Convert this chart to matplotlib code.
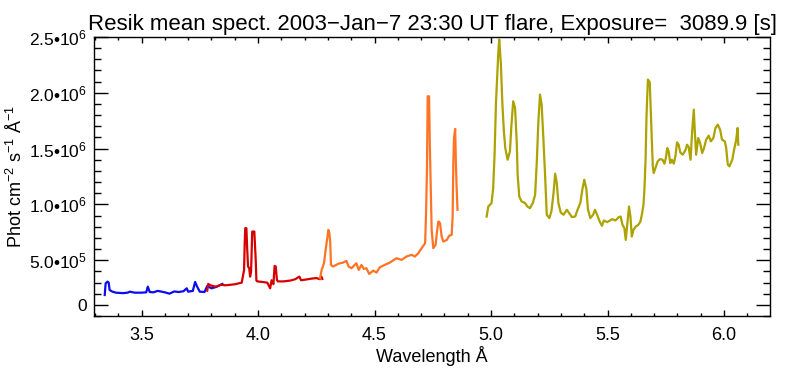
import numpy as np
import matplotlib
matplotlib.use("Agg")
import matplotlib.pyplot as plt
from matplotlib.ticker import MultipleLocator, FixedLocator

plt.rcParams['font.family'] = ['Liberation Sans', 'DejaVu Sans']
plt.rcParams['mathtext.fontset'] = 'custom'
plt.rcParams['mathtext.rm'] = 'Liberation Sans'
plt.rcParams['mathtext.default'] = 'rm'

# Channel 1 (blue)
wave_ch1 = [3.342, 3.346, 3.354, 3.359, 3.363, 3.375, 3.39, 3.42, 3.44, 3.45, 3.47, 3.50,
            3.52, 3.527, 3.535, 3.55, 3.57, 3.60, 3.62, 3.64, 3.66, 3.68, 3.694, 3.70,
            3.72, 3.730, 3.738, 3.75, 3.77, 3.782, 3.80, 3.82, 3.847]
flux_ch1 = [188e3, 293e3, 308e3, 300e3, 233e3, 218e3, 209e3, 205e3, 209e3, 218e3, 209e3, 209e3,
            212e3, 263e3, 215e3, 212e3, 225e3, 212e3, 200e3, 220e3, 215e3, 222e3, 248e3, 218e3,
            225e3, 305e3, 265e3, 218e3, 215e3, 269e3, 248e3, 260e3, 287e3]

# Channel 2 (red)
wave_ch2 = [3.782, 3.786, 3.80, 3.82, 3.84, 3.86, 3.90, 3.93, 3.940, 3.943, 3.945, 3.950,
            3.953, 3.957, 3.962, 3.966, 3.970, 3.975, 3.984, 3.990, 3.993, 3.997, 4.02,
            4.04, 4.052, 4.058, 4.066, 4.071, 4.076, 4.081, 4.085, 4.11, 4.14, 4.16, 4.177,
            4.185, 4.20, 4.23, 4.25, 4.265, 4.272, 4.276]
flux_ch2 = [227e3, 287e3, 272e3, 262e3, 280e3, 275e3, 284e3, 299e3, 413e3, 667e3, 787e3, 787e3,
            622e3, 443e3, 430e3, 353e3, 395e3, 757e3, 757e3, 503e3, 317e3, 310e3, 305e3,
            298e3, 248e3, 320e3, 285e3, 449e3, 443e3, 323e3, 310e3, 310e3, 318e3, 330e3, 353e3,
            320e3, 325e3, 335e3, 340e3, 330e3, 353e3, 332e3]

# Channel 3 (orange)
wave_ch3 = [4.266, 4.273, 4.283, 4.290, 4.297, 4.302, 4.306, 4.310, 4.313, 4.322, 4.343, 4.365,
            4.379, 4.389, 4.401, 4.422, 4.432, 4.444, 4.454, 4.465, 4.477, 4.494, 4.508, 4.523,
            4.544, 4.566, 4.594, 4.616, 4.637, 4.659, 4.673, 4.688, 4.702, 4.717, 4.721, 4.725,
            4.728, 4.734, 4.737, 4.741, 4.745, 4.752, 4.762, 4.768, 4.774, 4.781, 4.788, 4.795,
            4.810, 4.821, 4.831, 4.835, 4.838, 4.841, 4.846, 4.849, 4.852, 4.856]
flux_ch3 = [338e3, 413e3, 473e3, 592e3, 697e3, 772e3, 745e3, 652e3, 458e3, 443e3, 467e3, 479e3,
            494e3, 443e3, 428e3, 473e3, 413e3, 458e3, 422e3, 428e3, 377e3, 407e3, 389e3, 437e3,
            458e3, 479e3, 518e3, 503e3, 533e3, 548e3, 533e3, 563e3, 608e3, 652e3, 922e3, 1.326e6,
            1.969e6, 1.969e6, 1.550e6, 1.161e6, 772e3, 608e3, 638e3, 757e3, 847e3, 832e3, 712e3, 667e3,
            682e3, 721e3, 727e3, 892e3, 1.371e6, 1.595e6, 1.676e6, 1.371e6, 1.161e6, 952e3]

# Channel 4 (olive)
wave_ch4 = [4.981, 4.988, 5.002, 5.009, 5.015, 5.021, 5.031, 5.035, 5.042, 5.048, 5.055, 5.061,
            5.071, 5.081, 5.087, 5.095, 5.103, 5.110, 5.114, 5.121, 5.131, 5.146, 5.156, 5.167,
            5.179, 5.189, 5.196, 5.203, 5.210, 5.217, 5.224, 5.232, 5.239, 5.250, 5.259, 5.268,
            5.275, 5.282, 5.289, 5.299, 5.311, 5.325, 5.337, 5.347, 5.361, 5.371, 5.383, 5.392,
            5.400, 5.409, 5.416, 5.426, 5.438, 5.446, 5.455, 5.466, 5.476, 5.484, 5.498, 5.520,
            5.534, 5.548, 5.556, 5.564, 5.572, 5.578, 5.585, 5.592, 5.598, 5.604, 5.611, 5.621,
            5.632, 5.641, 5.647, 5.654, 5.658, 5.663, 5.667, 5.673, 5.681, 5.685, 5.690, 5.694,
            5.698, 5.707, 5.715, 5.725, 5.736, 5.744, 5.750, 5.756, 5.762, 5.769, 5.776, 5.784,
            5.791, 5.798, 5.805, 5.812, 5.822, 5.834, 5.841, 5.848, 5.856, 5.863, 5.870, 5.874,
            5.880, 5.889, 5.897, 5.906, 5.914, 5.923, 5.934, 5.943, 5.954, 5.963, 5.973, 5.983,
            5.991, 6.003, 6.009, 6.016, 6.023, 6.035, 6.043, 6.052, 6.058, 6.061]
flux_ch4 = [891e3, 981e3, 1.012e6, 1.146e6, 1.445e6, 1.909e6, 2.358e6, 2.478e6, 2.268e6, 1.924e6, 1.654e6, 1.505e6,
            1.400e6, 1.475e6, 1.699e6, 1.924e6, 1.864e6, 1.565e6, 1.266e6, 1.071e6, 1.026e6, 1.012e6, 981e3, 966e3,
            1.012e6, 1.086e6, 1.371e6, 1.744e6, 1.984e6, 1.894e6, 1.610e6, 1.251e6, 907e3, 877e3, 937e3, 1.101e6,
            1.275e6, 1.191e6, 1.012e6, 927e3, 907e3, 952e3, 916e3, 886e3, 892e3, 952e3, 1.012e6, 1.137e6,
            1.221e6, 1.137e6, 952e3, 877e3, 907e3, 952e3, 907e3, 847e3, 808e3, 856e3, 841e3, 868e3,
            856e3, 886e3, 891e3, 817e3, 787e3, 682e3, 832e3, 981e3, 891e3, 712e3, 772e3, 802e3,
            817e3, 847e3, 907e3, 996e3, 1.131e6, 1.400e6, 1.789e6, 2.119e6, 2.095e6, 1.849e6, 1.565e6, 1.341e6,
            1.281e6, 1.335e6, 1.385e6, 1.406e6, 1.400e6, 1.365e6, 1.415e6, 1.505e6, 1.475e6, 1.370e6, 1.400e6, 1.365e6,
            1.430e6, 1.556e6, 1.535e6, 1.466e6, 1.445e6, 1.485e6, 1.535e6, 1.514e6, 1.400e6, 1.654e6, 1.849e6, 1.669e6,
            1.445e6, 1.595e6, 1.550e6, 1.460e6, 1.505e6, 1.580e6, 1.616e6, 1.565e6, 1.595e6, 1.685e6, 1.715e6, 1.669e6,
            1.580e6, 1.565e6, 1.505e6, 1.356e6, 1.341e6, 1.400e6, 1.490e6, 1.580e6, 1.685e6, 1.535e6]

channels = [(wave_ch1, flux_ch1, '#0c0cee'),
            (wave_ch2, flux_ch2, '#d60000'),
            (wave_ch3, flux_ch3, '#ff7424'),
            (wave_ch4, flux_ch4, '#aca200')]

ytick_vals = [1e5, 5e5, 1e6, 1.5e6, 2e6, 2.5e6]
ytick_labels = ['0', '5.0•10$^{5}$', '1.0•10$^{6}$', '1.5•10$^{6}$', '2.0•10$^{6}$', '2.5•10$^{6}$']

fig = plt.figure(figsize=(7.91, 3.70), dpi=100)
ax = fig.add_axes([94 / 791, 1 - 316 / 370, 676 / 791, 279 / 370])

for wave, flux, col in channels:
    ax.plot(wave, flux, color=col, lw=1.6)

ax.set_xlim(3.296, 6.197)
ax.set_ylim(0, 2.5e6)

ax.xaxis.set_major_locator(MultipleLocator(0.5))
ax.xaxis.set_minor_locator(MultipleLocator(0.1))
ax.yaxis.set_major_locator(FixedLocator(ytick_vals))
ax.yaxis.set_minor_locator(MultipleLocator(1e5))
ax.set_yticklabels(ytick_labels)

ax.tick_params(axis='x', which='major', direction='in', length=4.2, width=1.0,
               top=True, labelsize=13, pad=8, colors='black')
ax.tick_params(axis='x', which='minor', direction='in', length=2.1, width=1.0, top=True)
ax.tick_params(axis='y', which='major', direction='in', length=9.8, width=1.0,
               right=True, labelsize=12.5, pad=5)
ax.tick_params(axis='y', which='minor', direction='in', length=4.9, width=1.0, right=True)
for sp in ax.spines.values():
    sp.set_linewidth(1.0)

ax.set_xlabel('Wavelength Å', fontsize=13, labelpad=1)
ax.set_ylabel('Phot cm$^{-2}$ s$^{-1}$ Å$^{-1}$', fontsize=13, labelpad=2)
ax.set_title('Resik mean spect. 2003−Jan−7 23:30 UT flare, Exposure=  3089.9 [s]',
             fontsize=16, pad=5)

fig.savefig('out.png', dpi=100)
